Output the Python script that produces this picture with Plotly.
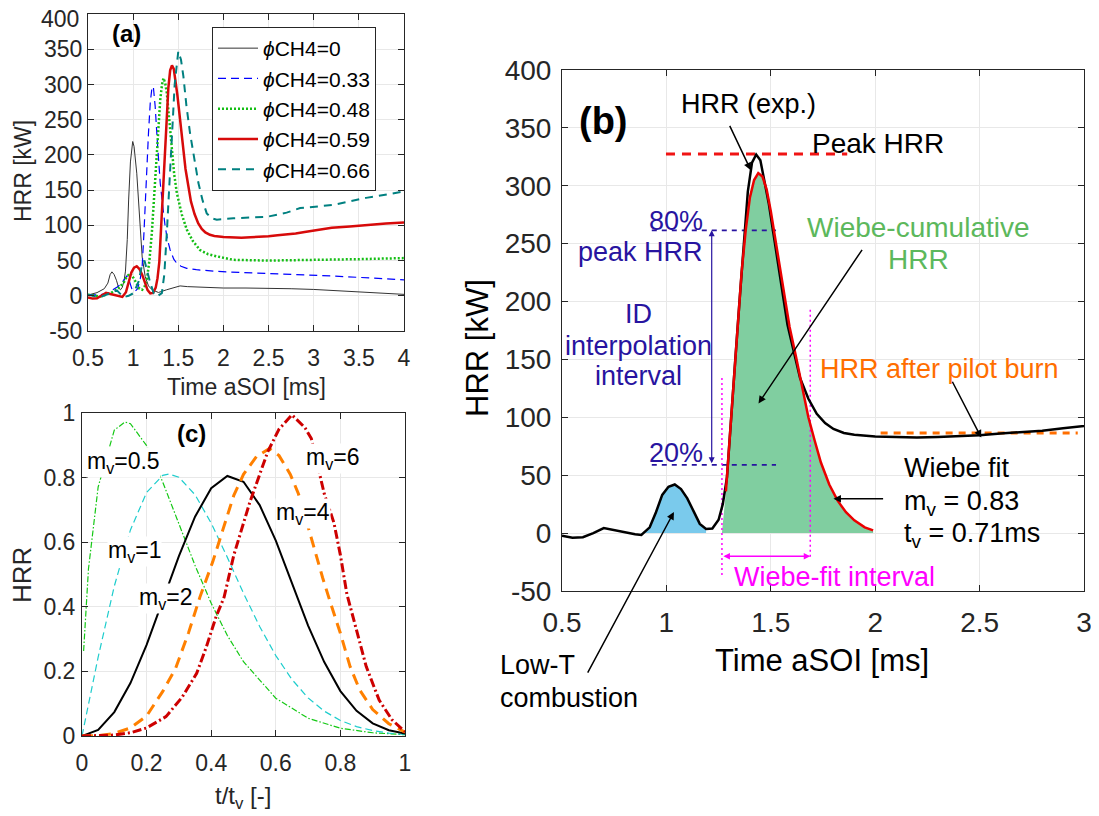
import numpy as np
import plotly.graph_objects as go

# ---------------- Panel (a): HRR vs time for several methane fractions ----------------
t_phi0 = [0.5, 0.6, 0.68, 0.72, 0.745, 0.765, 0.79, 0.815, 0.84, 0.86, 0.88, 0.9, 0.915, 0.935, 0.95,
          0.97, 0.995, 1.01, 1.04, 1.06, 1.08, 1.1, 1.134, 1.17, 1.21, 1.28, 1.37, 1.45, 1.52, 1.6,
          1.75, 2.0, 2.25, 2.5, 2.75, 3.0, 3.25, 3.5, 3.75, 4.0]
hrr_phi0 = [1, 4.5, 10, 18, 30, 34, 30, 22, 11, 8.5, 12, 22, 35, 80, 136,
            190, 219, 212, 174, 130, 89, 55, 27, 14, 8.5, 4.7, 8.5, 12, 14, 13,
            12, 11, 11, 11, 10, 9, 7.5, 5.5, 4, 2]

t_phi033 = [0.5, 0.64, 0.72, 0.78, 0.82, 0.857, 0.89, 0.91, 0.93, 0.95, 0.97, 0.99, 1.02, 1.05, 1.08,
            1.1, 1.12, 1.134, 1.15, 1.17, 1.19, 1.21, 1.225, 1.244, 1.27, 1.3, 1.33, 1.355, 1.38,
            1.41, 1.45, 1.484, 1.53, 1.594, 1.7, 1.8, 1.926, 2.2, 2.48, 2.8, 3.22, 3.6, 4.0]
hrr_phi033 = [1.4, 1.4, 4, 8.5, 12, 15.6, 22, 26, 28, 24, 14, 8, 6, 10, 25,
              42, 90, 136, 185, 231, 275, 297, 295, 269, 215, 160, 125, 98, 80,
              65, 52, 46, 42, 39, 37, 36, 34.6, 33, 32, 30, 28, 25, 22.7]

t_phi048 = [0.5, 0.64, 0.75, 0.82, 0.857, 0.9, 0.93, 0.968, 1.005, 1.04, 1.07, 1.1, 1.13, 1.152, 1.18,
            1.207, 1.235, 1.263, 1.285, 1.3, 1.32, 1.336, 1.355, 1.373, 1.4, 1.428, 1.455, 1.484,
            1.54, 1.594, 1.66, 1.74, 1.83, 1.926, 2.11, 2.5, 3.0, 3.5, 4.0]
hrr_phi048 = [1.4, -1, 3.8, 9, 13, 20, 27, 32, 25, 16, 10, 8.5, 14, 23, 50,
              89, 150, 207, 250, 278, 300, 309, 302, 288, 250, 207, 172, 146,
              115, 94, 78, 65, 59, 56, 51, 50, 50.5, 52, 53.5]

t_phi059 = [0.5, 0.55, 0.6, 0.65, 0.7, 0.75, 0.8, 0.85, 0.88, 0.92, 0.95, 0.98, 1.01, 1.04, 1.07,
            1.1, 1.13, 1.16, 1.19, 1.22, 1.25, 1.27, 1.29, 1.31, 1.33, 1.35, 1.37, 1.39, 1.41,
            1.43, 1.45, 1.47, 1.49, 1.52, 1.55, 1.58, 1.61, 1.64, 1.68, 1.72, 1.76, 1.8, 1.85,
            1.9, 2.0, 2.1, 2.2, 2.3, 2.4, 2.5, 2.6, 2.7, 2.8, 2.9, 3.0, 3.2, 3.4, 3.6, 3.8, 4.0]
hrr_phi059 = [-2.3, -4, -3.5, 0, 4.3, 2.5, 0.5, -1, -1.6, 5, 18, 33, 40, 42, 38,
              30, 19, 8, 3.5, 4, 11.5, 25, 48, 95, 150, 200, 250, 295, 320,
              327, 322, 305, 285, 250, 215, 180, 157, 134, 116, 103, 95, 90, 86.5,
              85, 83.5, 82.8, 82.5, 83, 83.5, 84.5, 86, 87, 88.5, 90.5, 92.4, 96.5, 98.5, 101, 102.5, 104]

t_phi066 = [0.5, 0.636, 0.747, 0.82, 0.894, 0.95, 1.005, 1.06, 1.1, 1.125, 1.15, 1.19, 1.23, 1.263,
            1.318, 1.345, 1.373, 1.4, 1.428, 1.46, 1.5, 1.53, 1.557, 1.59, 1.63, 1.68, 1.723, 1.77,
            1.815, 1.87, 1.926, 2.11, 2.48, 2.7, 2.85, 3.22, 3.58, 4.0]
hrr_phi066 = [1.4, -2, 3.8, 7.6, -2, 0, 3.8, 20, 45, 50, 38, 18, 3, -1,
              3.8, 30, 89, 160, 231, 300, 347, 335, 311, 270, 231, 190, 160, 135,
              117, 110, 108, 110, 112, 118, 124.5, 129, 139, 148]

legend_names = ["<i>\u03d5</i>CH4=0", "<i>\u03d5</i>CH4=0.33", "<i>\u03d5</i>CH4=0.48",
                "<i>\u03d5</i>CH4=0.59", "<i>\u03d5</i>CH4=0.66"]

hrr_tickvals = [-50, 0, 50, 100, 150, 200, 250, 300, 350, 400]
hrr_ticktext = ["-50", "0", "50", "100", "150", "200", "250", "300", "350", "400"]
time_a_ticks = [0.5, 1, 1.5, 2, 2.5, 3, 3.5, 4]
time_b_ticks = [0.5, 1, 1.5, 2, 2.5, 3]
c_ticks = [0, 0.2, 0.4, 0.6, 0.8, 1]
c_ticktext = ["0", "0.2", "0.4", "0.6", "0.8", "1"]

# ---------------- Panel (b): Wiebe fit of the phi=0.59 case ----------------
t_wiebe = [1.285, 1.3, 1.32, 1.34, 1.36, 1.38, 1.4, 1.42, 1.44, 1.46, 1.48, 1.5, 1.53, 1.56, 1.59,
           1.62, 1.65, 1.68, 1.71, 1.74, 1.78, 1.82, 1.86, 1.9, 1.95, 1.99]
hrr_wiebe = [36, 75, 123, 175, 225, 262, 290, 305, 311, 308, 297, 278, 245, 210, 178,
             153, 127, 100, 80, 61, 42, 28, 18, 11, 5, 2.3]
fit_start, fit_end = 1.266, 1.689
peak_hrr = 327.4
peak_line_t = [0.998, 1.866]
hrr80, hrr20 = 261.5, 59
pct_line_t = [0.93, 1.525]
after_pilot_hrr = 86.5
after_pilot_t = [2.026, 2.97]
lowT_window = [0.88, 1.2]

# ---------------- Panel (c): normalised Wiebe shapes ----------------
x_m05 = [0.005, 0.02, 0.05, 0.1, 0.133, 0.15, 0.2, 0.25, 0.3, 0.35, 0.4, 0.45, 0.5, 0.6, 0.7, 0.8, 0.9, 1.0]
y_m05 = [0.263, 0.517, 0.771, 0.947, 0.972, 0.967, 0.899, 0.786, 0.657, 0.528, 0.411, 0.311, 0.230,
         0.117, 0.055, 0.024, 0.010, 0.004]
x_m1 = [0, 0.05, 0.1, 0.15, 0.2, 0.25, 0.27, 0.3, 0.35, 0.4, 0.45, 0.5, 0.55, 0.6, 0.65, 0.7, 0.75,
        0.8, 0.85, 0.9, 0.95, 1.0]
y_m1 = [0, 0.244, 0.464, 0.638, 0.754, 0.807, 0.811, 0.801, 0.747, 0.659, 0.553, 0.442, 0.339, 0.249,
        0.175, 0.118, 0.077, 0.048, 0.029, 0.017, 0.009, 0.005]
x_m2 = [0, 0.05, 0.1, 0.15, 0.2, 0.25, 0.3, 0.35, 0.4, 0.45, 0.5, 0.55, 0.6, 0.65, 0.7, 0.75, 0.8,
        0.85, 0.9, 0.95, 1.0]
y_m2 = [0, 0.019, 0.074, 0.164, 0.282, 0.418, 0.557, 0.679, 0.767, 0.805, 0.787, 0.715, 0.605, 0.473,
        0.342, 0.229, 0.139, 0.078, 0.039, 0.018, 0.008]
x_m4 = [0, 0.05, 0.1, 0.15, 0.2, 0.25, 0.29, 0.33, 0.365, 0.405, 0.435, 0.47, 0.5, 0.54, 0.58, 0.61,
        0.645, 0.67, 0.695, 0.72, 0.745, 0.77, 0.8, 0.83, 0.86, 0.9, 0.95, 1.0]
y_m4 = [0, 0.001, 0.008, 0.025, 0.062, 0.138, 0.21, 0.32, 0.43, 0.54, 0.635, 0.745, 0.81, 0.865, 0.89,
        0.868, 0.81, 0.75, 0.665, 0.575, 0.49, 0.41, 0.318, 0.215, 0.142, 0.082, 0.038, 0.012]
x_m6 = [0, 0.05, 0.1, 0.15, 0.2, 0.26, 0.31, 0.355, 0.385, 0.415, 0.44, 0.47, 0.52, 0.575, 0.61, 0.65,
        0.69, 0.71, 0.75, 0.78, 0.8, 0.82, 0.85, 0.88, 0.92, 0.96, 1.0]
y_m6 = [0, 0.0005, 0.003, 0.01, 0.025, 0.06, 0.12, 0.194, 0.276, 0.369, 0.43, 0.56, 0.725, 0.88, 0.95,
        0.994, 0.955, 0.921, 0.75, 0.66, 0.56, 0.44, 0.328, 0.215, 0.111, 0.05, 0.013]

# ---------------- Layout helpers ----------------
W, H = 1099, 816
OFF = 8  # page body margin in the browser
FONT = "Arial, Liberation Sans, Helvetica, sans-serif"
AX = "#262626"
GRID = "#E8E8E8"


def px(x):
    return (x - OFF) / W


def py(y):
    return 1 - (y - OFF) / H


fig = go.Figure()

# Panel (a)
styles_a = [
    dict(color="#333333", width=1),
    dict(color="#0000FF", width=1.2, dash="8px,5px"),
    dict(color="rgb(20,190,20)", width=2.5, dash="2px,2px"),
    dict(color="rgb(215,10,10)", width=2.5),
    dict(color="rgb(0,128,128)", width=2, dash="8px,6px"),
]
series_a = [(t_phi0, hrr_phi0), (t_phi033, hrr_phi033), (t_phi048, hrr_phi048),
            (t_phi059, hrr_phi059), (t_phi066, hrr_phi066)]
for (tt, hh), name, st in zip(series_a, legend_names, styles_a):
    fig.add_trace(go.Scatter(x=tt, y=hh, mode="lines", name=name, line=st,
                             xaxis="x", yaxis="y", showlegend=True))

# Panel (b)
t59 = np.array(t_phi059)
h59 = np.array(hrr_phi059)
m = (t59 >= lowT_window[0]) & (t59 <= lowT_window[1])
fig.add_trace(go.Scatter(x=t59[m], y=h59[m], mode="lines", fill="tozeroy",
                         fillcolor="rgb(122,202,236)", line=dict(width=0),
                         xaxis="x2", yaxis="y2", showlegend=False))
fig.add_trace(go.Scatter(x=[fit_start] + t_wiebe, y=[0] + hrr_wiebe, mode="lines", fill="tozeroy",
                         fillcolor="rgb(128,206,160)", line=dict(width=0),
                         xaxis="x2", yaxis="y2", showlegend=False))
# reference lines
fig.add_trace(go.Scatter(x=peak_line_t, y=[peak_hrr, peak_hrr], mode="lines",
                         line=dict(color="rgb(240,20,20)", width=3, dash="9px,7px"),
                         xaxis="x2", yaxis="y2", showlegend=False))
for lvl in (hrr80, hrr20):
    fig.add_trace(go.Scatter(x=pct_line_t, y=[lvl, lvl], mode="lines",
                             line=dict(color="rgb(40,20,160)", width=1.8, dash="5px,5px"),
                             xaxis="x2", yaxis="y2", showlegend=False))
fig.add_trace(go.Scatter(x=[fit_start, fit_start], y=[134, -38], mode="lines",
                         line=dict(color="#FF00FF", width=1.5, dash="2px,3px"),
                         xaxis="x2", yaxis="y2", showlegend=False))
fig.add_trace(go.Scatter(x=[fit_end, fit_end], y=[193, -22], mode="lines",
                         line=dict(color="#FF00FF", width=1.5, dash="2px,3px"),
                         xaxis="x2", yaxis="y2", showlegend=False))
fig.add_trace(go.Scatter(x=after_pilot_t, y=[after_pilot_hrr] * 2, mode="lines",
                         line=dict(color="rgb(255,110,0)", width=3, dash="7px,6px"),
                         xaxis="x2", yaxis="y2", showlegend=False))
fig.add_trace(go.Scatter(x=t_phi059, y=hrr_phi059, mode="lines",
                         line=dict(color="black", width=2.5),
                         xaxis="x2", yaxis="y2", showlegend=False))
fig.add_trace(go.Scatter(x=t_wiebe, y=hrr_wiebe, mode="lines",
                         line=dict(color="rgb(235,0,0)", width=2.5),
                         xaxis="x2", yaxis="y2", showlegend=False))

# Panel (c)
styles_c = [
    (x_m05, y_m05, dict(color="rgb(20,200,20)", width=1.2, dash="6px,2px,1.5px,2px")),
    (x_m1, y_m1, dict(color="rgb(30,205,205)", width=1.2, dash="7px,4px")),
    (x_m2, y_m2, dict(color="black", width=2)),
    (x_m4, y_m4, dict(color="rgb(255,128,0)", width=3, dash="11px,7px")),
    (x_m6, y_m6, dict(color="rgb(205,0,0)", width=3, dash="9px,3px,2px,3px")),
]
for xx, yy, st in styles_c:
    fig.add_trace(go.Scatter(x=xx, y=yy, mode="lines", line=st,
                             xaxis="x3", yaxis="y3", showlegend=False))


def axis(domain, rng, tickvals, ticktext, anchor, size, standoff=0):
    return dict(domain=domain, range=rng, tickmode="array", tickvals=tickvals, ticktext=ticktext,
                anchor=anchor, automargin=False, ticklabelstandoff=standoff,
                ticklabeloverflow="allow",
                showline=True, linecolor=AX, linewidth=1, mirror="ticks",
                ticks="inside", ticklen=6, tickcolor=AX, showgrid=True, gridcolor=GRID,
                gridwidth=1, zeroline=False, tickfont=dict(family=FONT, size=size, color=AX))


def labels(vals):
    return [("%g" % v) for v in vals]


# in panel (a) the topmost label sits at the page edge; it is drawn as a separate text below
ticktext_a = hrr_ticktext[:-1] + [""]

fig.update_layout(
    template="none",
    width=W, height=H, margin=dict(l=0, r=0, t=0, b=0, pad=0), autosize=False,
    paper_bgcolor="white", plot_bgcolor="white",
    font=dict(family=FONT, color="black"),
    xaxis=axis([px(88), px(404)], [0.5, 4], time_a_ticks, labels(time_a_ticks), "y", 23, 6),
    yaxis=axis([py(331), py(14)], [-50, 400], hrr_tickvals, ticktext_a, "x", 23, 0),
    xaxis2=axis([px(562), px(1084)], [0.5, 3], time_b_ticks, labels(time_b_ticks), "y2", 28, 6),
    yaxis2=axis([py(591), py(70)], [-50, 400], hrr_tickvals, hrr_ticktext, "x2", 28, 4),
    xaxis3=axis([px(82), px(405)], [0, 1], c_ticks, c_ticktext, "y3", 23, 6),
    yaxis3=axis([py(736), py(413)], [0, 1], c_ticks, c_ticktext, "x3", 23, 1),
    legend=dict(x=px(212), y=py(27), xanchor="left", yanchor="top",
                bgcolor="white", bordercolor=AX, borderwidth=1, itemwidth=40,
                font=dict(family=FONT, size=21, color="black"), tracegroupgap=0),
    hovermode=False,
)

BLUE_T = "rgb(40,20,160)"
ann = []


def txt(text, x, y, size, color="black", xref="x2", yref="y2", **kw):
    d = dict(text=text, x=x, y=y, xref=xref, yref=yref, showarrow=False,
             xanchor="center", yanchor="middle",
             font=dict(family=FONT, size=size, color=color))
    d.update(kw)
    ann.append(d)


def arrow(x, y, ax, ay, color="black", width=1.5, side="end", xref="x2", yref="y2"):
    ann.append(dict(text="", x=x, y=y, ax=ax, ay=ay, xref=xref, yref=yref, axref=xref, ayref=yref,
                    showarrow=True, arrowhead=2, arrowsize=1, arrowwidth=width, arrowcolor=color,
                    arrowside=side, startarrowhead=2, startarrowsize=1))


# top tick label of panel (a)
txt(hrr_ticktext[-1], px(81), py(19), 23, AX, "paper", "paper", xanchor="right")

# axis titles
txt("HRR [kW]", px(23), py(171), 23, AX, "paper", "paper", textangle=-90)
txt("Time aSOI [ms]", px(246), py(387), 23, AX, "paper", "paper")
txt("HRR", px(22), py(575), 26, AX, "paper", "paper", textangle=-90)
txt("t/t<sub>v</sub> [-]", px(243), py(797), 24, AX, "paper", "paper")
txt("HRR [kW]", px(477), py(348), 31, "black", "paper", "paper", textangle=-90)
txt("Time aSOI [ms]", px(822), py(660), 31, "black", "paper", "paper")

# panel labels
txt("<b>(a)</b>", 0.93, 373, 24, "black", "x", "y")
txt("<b>(c)</b>", 0.34, 0.937, 24, "black", "x3", "y3")
txt("<b>(b)</b>", 0.70, 356, 38)

# panel (c) labels
for label, xx, yy in [("m<sub>v</sub>=0.5", 0.13, 0.848), ("m<sub>v</sub>=1", 0.164, 0.572),
                      ("m<sub>v</sub>=2", 0.257, 0.427), ("m<sub>v</sub>=4", 0.685, 0.69),
                      ("m<sub>v</sub>=6", 0.774, 0.86)]:
    txt(label, xx, yy, 23, "black", "x3", "y3", bgcolor="white", borderpad=0)

# panel (b) texts
txt("HRR (exp.)", 1.394, 371, 27)
arrow(1.404, 313.5, 1.30, 353)
txt("Peak HRR", 2.013, 336.6, 28)
txt("80%", 1.185, 270, 27, BLUE_T, xanchor="right")
txt("peak HRR", 1.185, 242.5, 27, BLUE_T, xanchor="right")
txt("20%", 1.185, 69, 27, BLUE_T, xanchor="right")
txt("ID", 0.865, 189, 27, BLUE_T)
txt("interpolation", 0.865, 161.5, 27, BLUE_T)
txt("interval", 0.865, 135.5, 27, BLUE_T)
arrow(1.217, hrr80, 1.217, hrr20, color=BLUE_T, width=1.2, side="end+start")
txt("Wiebe-cumulative", 2.206, 264, 28, "rgb(92,184,92)")
txt("HRR", 2.206, 236, 28, "rgb(92,184,92)")
arrow(1.441, 112, 1.942, 246)
txt("HRR after pilot burn", 2.309, 142, 27, "rgb(255,110,0)")
arrow(2.508, 82.5, 2.366, 132)
txt("Wiebe fit", 2.13, 56, 27, xanchor="left")
txt("m<sub>v</sub> = 0.83", 2.13, 26.4, 27, xanchor="left")
txt("t<sub>v</sub> = 0.71ms", 2.13, -1.6, 27, xanchor="left")
arrow(1.80, 29.7, 2.045, 29.7)
arrow(fit_end, -20, fit_start, -20, color="#FF00FF", width=1.3, side="end+start")
txt("Wiebe-fit interval", 1.806, -38, 27, "#FF00FF")
# low-T combustion
ann.append(dict(text="", x=1.036, y=18.2, xref="x2", yref="y2", ax=-87, ay=162,
                showarrow=True, arrowhead=2, arrowsize=1, arrowwidth=1.5, arrowcolor="black"))
txt("Low-T", px(498), py(665), 27, "black", "paper", "paper", xanchor="left")
txt("combustion", px(498), py(698), 27, "black", "paper", "paper", xanchor="left")

fig.update_layout(annotations=ann)
fig.write_html("out.html")
